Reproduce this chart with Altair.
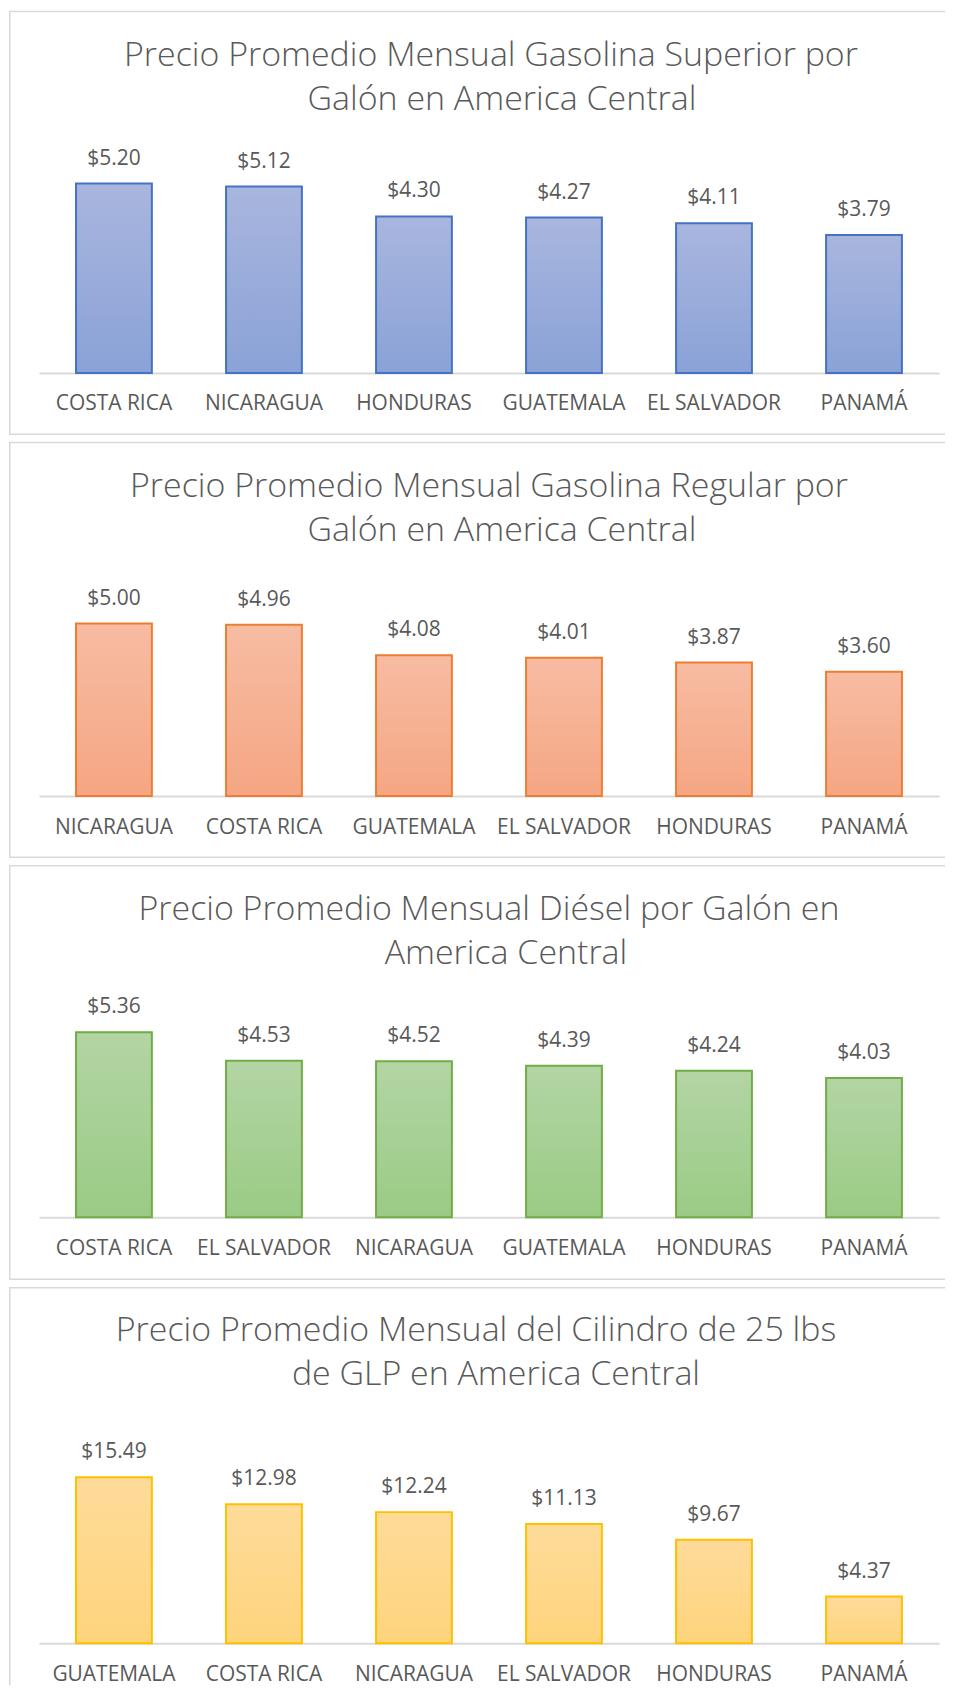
import altair as alt
import pandas as pd

# ---- data ----
sup_countries = ["COSTA RICA", "NICARAGUA", "HONDURAS", "GUATEMALA", "EL SALVADOR", "PANAMÁ"]
sup_values = [5.20, 5.12, 4.30, 4.27, 4.11, 3.79]

reg_countries = ["NICARAGUA", "COSTA RICA", "GUATEMALA", "EL SALVADOR", "HONDURAS", "PANAMÁ"]
reg_values = [5.00, 4.96, 4.08, 4.01, 3.87, 3.60]

die_countries = ["COSTA RICA", "EL SALVADOR", "NICARAGUA", "GUATEMALA", "HONDURAS", "PANAMÁ"]
die_values = [5.36, 4.53, 4.52, 4.39, 4.24, 4.03]

glp_countries = ["GUATEMALA", "COSTA RICA", "NICARAGUA", "EL SALVADOR", "HONDURAS", "PANAMÁ"]
glp_values = [15.49, 12.98, 12.24, 11.13, 9.67, 4.37]

sup_title = ["Precio Promedio Mensual Gasolina Superior por", "Galón en America Central"]
reg_title = ["Precio Promedio Mensual Gasolina Regular por", "Galón en America Central"]
die_title = ["Precio Promedio Mensual Diésel por Galón en", "America Central"]
glp_title = ["Precio Promedio Mensual del Cilindro de 25 lbs", "de GLP en America Central"]

FONT = "Open Sans"
TEXT_COLOR = "#595959"
BORDER = "#d9d9d9"
W = 938


def panel(countries, values, title_lines, fill_top, fill_bottom, stroke,
          h, baseline, ymax, px_per_unit, title_y, title_x, bottom_border=True):
    df = pd.DataFrame({"pais": countries, "precio": values})
    x = alt.X(
        "pais:N", sort=countries, title=None,
        scale=alt.Scale(range=[30, 932], paddingInner=0.4945, paddingOuter=0.2473),
        axis=alt.Axis(
            orient="bottom", offset=baseline - h, domainColor=BORDER,
            domainWidth=2, ticks=False, tickSize=0, labelAngle=0,
            labelFont=FONT, labelFontSize=21, labelColor=TEXT_COLOR,
            labelPadding=31, labelBaseline="middle", grid=False,
            labelOverlap=False, labelLimit=400,
        ),
    )
    y = alt.Y(
        "precio:Q", title=None, axis=None,
        scale=alt.Scale(domain=[0, ymax], range=[baseline, baseline - ymax * px_per_unit],
                        nice=False, zero=True),
    )
    base = alt.Chart(df).encode(x=x, y=y)
    bars = base.mark_bar(
        fill=alt.Gradient(
            gradient="linear",
            stops=[alt.GradientStop(color=fill_top, offset=0),
                   alt.GradientStop(color=fill_bottom, offset=1)],
            x1=0, x2=0, y1=0, y2=1,
        ),
        stroke=stroke, strokeWidth=2,
    )
    labels = base.mark_text(
        dy=-25, baseline="middle", align="center", font=FONT, fontSize=21, color=TEXT_COLOR
    ).encode(text=alt.Text("precio:Q", format="$.2f"))

    one = pd.DataFrame({"t": [0]})
    layers = [bars, labels]
    for i, line in enumerate(title_lines):
        layers.append(
            alt.Chart(one).mark_text(
                text=line, font=FONT, fontSize=34, fontWeight=300, color=TEXT_COLOR,
                align="center", baseline="middle",
            ).encode(x=alt.value(title_x[i]), y=alt.value(title_y + 44 * i))
        )
    # panel frame (top, left, optional bottom); the right side runs off the page
    layers.append(alt.Chart(one).mark_rule(color=BORDER, strokeWidth=1.5).encode(
        x=alt.value(0), x2=alt.value(W), y=alt.value(0.75)))
    layers.append(alt.Chart(one).mark_rule(color=BORDER, strokeWidth=1.5).encode(
        x=alt.value(0.75), y=alt.value(0), y2=alt.value(h)))
    if bottom_border:
        layers.append(alt.Chart(one).mark_rule(color=BORDER, strokeWidth=1.5).encode(
            x=alt.value(0), x2=alt.value(W), y=alt.value(h - 0.75)))
    return alt.layer(*layers).properties(width=W, height=h)


p1 = panel(sup_countries, sup_values, sup_title, "#a9b6de", "#8aa2d7", "#4472c4",
           425, 363, 6, 36.5, 45, [483, 494])
p2 = panel(reg_countries, reg_values, reg_title, "#f7bca3", "#f5a683", "#ed7d31",
           417, 355, 6, 34.6, 45, [481, 494])
p3 = panel(die_countries, die_values, die_title, "#b3d5a4", "#9acb85", "#70ad47",
           416, 353, 6, 34.6, 45, [481, 498])
p4 = panel(glp_countries, glp_values, glp_title, "#fedb9a", "#fed47c", "#ffc000",
           399, 357, 18, 10.74, 44, [468, 488], bottom_border=False)

chart = alt.vconcat(p1, p2, p3, p4, spacing=5).properties(
    padding={"left": 0, "top": 0, "right": 0, "bottom": 0}
).configure_view(stroke="transparent", strokeWidth=0)

chart.save("out.html", embed_options={"renderer": "svg", "actions": False})
